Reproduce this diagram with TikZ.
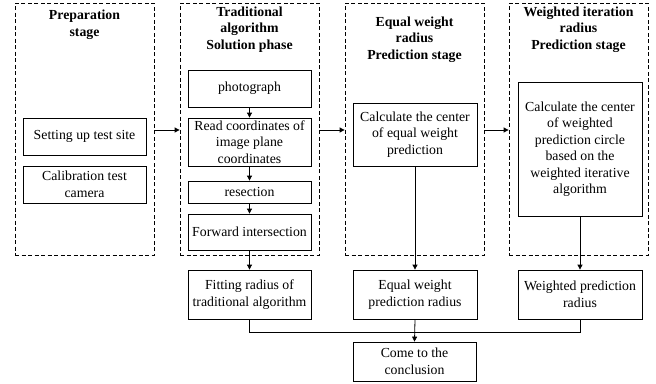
\documentclass[tikz,border=0pt]{standalone}
\usepackage{fontspec}
\setmainfont{Liberation Serif}
\usetikzlibrary{arrows.meta}
\begin{document}
\begin{tikzpicture}[x=1pt,y=-1pt,
  every node/.style={font=\fontsize{13.8}{16.5}\selectfont},
  stage/.style={draw, line width=0.8pt, dash pattern=on 4pt off 2.5pt, minimum width=139pt, minimum height=252pt, inner sep=0pt},
  title/.style={font=\fontsize{13.8}{16.5}\selectfont\bfseries, align=center, inner sep=0pt},
  box/.style={draw, line width=0.8pt, align=center, inner sep=1pt, minimum width=123pt},
  arr/.style={line width=0.8pt, -{Triangle[length=5pt,width=5pt]}},
  ln/.style={line width=0.8pt}]
\useasboundingbox (0,0) rectangle (656,383);
% stage frames
\node[stage] (s1) at (84.5,129) {};
\node[stage] (s2) at (249.5,129) {};
\node[stage] (s3) at (414.5,129) {};
\node[stage] (s4) at (578.5,129) {};
% titles
\node[title] (t1) at (84.5,24.5) {Preparation\\stage};
\node[title] (t2) at (249.5,29.5) {Traditional\\algorithm\\Solution phase};
\node[title] (t3) at (414.5,39.5) {Equal weight\\radius\\Prediction stage};
\node[title] (t4) at (578.5,29.5) {Weighted iteration\\radius\\Prediction stage};
% stage 1
\node[box, minimum height=37pt] (setup) at (84.5,136.5) {Setting up test site};
\node[box, minimum height=37pt] (calib) at (84.5,184.5) {Calibration test\\camera};
% stage 2
\node[box, minimum height=37pt] (photo) at (249.5,88.5) {photograph};
\node[box, minimum height=48pt] (read) at (249.5,142) {Read coordinates of\\image plane\\coordinates};
\node[box, minimum height=22pt] (resect) at (249.5,192) {resection};
\node[box, minimum height=36pt] (fwd) at (249.5,232) {Forward intersection};
\node[box, minimum height=49pt] (fit) at (249.5,294.5) {Fitting radius of\\traditional algorithm};
% stage 3
\node[box, minimum width=124pt, minimum height=63pt] (calceq) at (415,134.5) {Calculate the center\\of equal weight\\prediction};
\node[box, minimum width=124pt, minimum height=49pt] (eqrad) at (415,294.5) {Equal weight\\prediction radius};
% stage 4
\node[box, minimum width=124pt, minimum height=134pt] (calcw) at (580,149) {Calculate the center\\of weighted\\prediction circle\\based on the\\weighted iterative\\algorithm};
\node[box, minimum width=124pt, minimum height=49pt] (wrad) at (580,294.5) {Weighted prediction\\radius};
% conclusion
\node[box, minimum height=39pt] (concl) at (414.5,361.5) {Come to the\\conclusion};
% connectors between stages
\draw[arr] (s1.east |- 0,130) -- (s2.west |- 0,130);
\draw[arr] (s2.east |- 0,130) -- (s3.west |- 0,130);
\draw[arr] (s3.east |- 0,130) -- (s4.west |- 0,130);
% inner connectors
\draw[arr] (photo) -- (read);
\draw[arr] (read) -- (resect);
\draw[arr] (resect) -- (fwd);
\draw[arr] (fwd) -- (fit);
\draw[arr] (calceq) -- (eqrad);
\draw[arr] (calcw) -- (wrad);
\draw[arr] (eqrad.south) -- (concl.north);
\coordinate (j1) at (249.5,332);
\coordinate (j2) at (580,332);
\draw[ln] (fit.south) -- (j1) -- (j2) -- (wrad.south);
\end{tikzpicture}
\end{document}
